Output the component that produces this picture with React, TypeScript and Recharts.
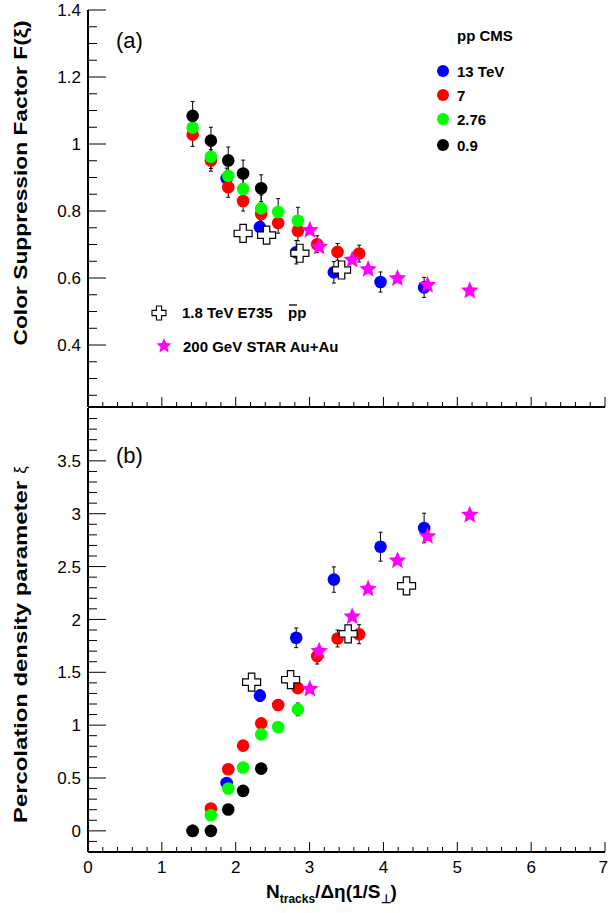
import React from 'react';
import { ScatterChart, Scatter, XAxis, YAxis, ErrorBar } from 'recharts';

const FONT = '"Liberation Sans", Arial, Helvetica, sans-serif';

// ---------- Panel (a): colour suppression factor F(xi) ----------
const cms13X = [1.877, 2.327, 2.819, 3.329, 3.961, 4.551];
const cms13F = [0.898, 0.752, 0.677, 0.617, 0.588, 0.572];
const cms13FErr = [0.03, 0.033, 0.035, 0.032, 0.03, 0.03];

const cms7X = [1.417, 1.664, 1.899, 2.1, 2.345, 2.575, 2.842, 3.103, 3.379, 3.671];
const cms7F = [1.028, 0.951, 0.871, 0.83, 0.791, 0.764, 0.741, 0.701, 0.678, 0.673];
const cms7FErr = [0.035, 0.032, 0.03, 0.03, 0.03, 0.03, 0.03, 0.025, 0.025, 0.025];

const cms276X = [1.417, 1.664, 1.899, 2.1, 2.345, 2.575, 2.842];
const cms276F = [1.049, 0.962, 0.905, 0.866, 0.808, 0.797, 0.771];
const cms276FErr = [0.035, 0.035, 0.035, 0.035, 0.04, 0.04, 0.04];

const cms09X = [1.417, 1.664, 1.899, 2.1, 2.345];
const cms09F = [1.084, 1.01, 0.951, 0.912, 0.868];
const cms09FErr = [0.043, 0.04, 0.04, 0.04, 0.04];

const e735Xa = [2.1, 2.418, 2.869, 3.433];
const e735F = [0.733, 0.728, 0.674, 0.624];

const starX = [3.004, 3.13, 3.577, 3.793, 4.19, 4.597, 5.169];
const starF = [0.743, 0.693, 0.654, 0.626, 0.599, 0.579, 0.562];

// ---------- Panel (b): percolation density parameter xi ----------
const cms13Xi = [0.453, 1.279, 1.826, 2.377, 2.688, 2.865];
const cms13XiErr = [0.02, 0.055, 0.093, 0.12, 0.137, 0.14];
const cms7Xi = [0, 0.211, 0.583, 0.806, 1.017, 1.19, 1.35, 1.653, 1.82, 1.86];
const cms7XiErr = [0, 0, 0, 0, 0.03, 0.05, 0.05, 0.075, 0.08, 0.09];
const cms276Xi = [0, 0.148, 0.4, 0.6, 0.913, 0.982, 1.149];
const cms276XiErr = [0, 0, 0, 0, 0, 0, 0.06];
const cms09Xi = [0, 0, 0.202, 0.378, 0.589];
const e735Xb = [2.215, 2.743, 3.522, 4.313];
const e735Xi = [1.407, 1.43, 1.864, 2.317];
const starXi = [1.341, 1.7, 2.027, 2.289, 2.556, 2.786, 2.988];

// ---------- axes ----------
const xMajor = [0, 1, 2, 3, 4, 5, 6, 7];
const aYMajor = [0.4, 0.6, 0.8, 1, 1.2, 1.4];
const bYMajor = [0, 0.5, 1, 1.5, 2, 2.5, 3, 3.5];
const steps = (a: number, b: number, s: number) =>
  Array.from({ length: Math.round((b - a) / s) + 1 }, (_, i) => +(a + i * s).toFixed(4));
const xTicks = steps(0, 7, 0.2);
const aYTicks = steps(0.25, 1.4, 0.05);
const bYTicks = steps(-0.1, 3.9, 0.1);

const C = { blue: '#0000ff', red: '#ff0000', green: '#00ff00', black: '#000000', mag: '#ff00ff' };

const pts = (xs: number[], ys: number[], es?: number[]) =>
  xs.map((x, i) => ({ x, y: ys[i], e: es ? es[i] : 0 }));

const isIn = (v: number, list: number[]) => list.some((m) => Math.abs(m - v) < 1e-6);

const makeTick = (side: string, majors: number[], majorLen: number, minorLen: number, labels: boolean) =>
  (props: any) => {
    const { x, y, payload } = props;
    const v = payload.value;
    const major = isIn(v, majors);
    const len = major ? majorLen : minorLen;
    let x2 = x, y2 = y;
    if (side === 'left') x2 = x + len;
    if (side === 'right') x2 = x - len;
    if (side === 'top') y2 = y + len;
    if (side === 'bottom') y2 = y - len;
    let label = null;
    if (labels && major) {
      if (side === 'left')
        label = (
          <text x={x - 7} y={y} dy="0.36em" textAnchor="end" fontSize={17} fontFamily={FONT} fill="#000">
            {String(v)}
          </text>
        );
      if (side === 'bottom') {
        const last = v === majors[majors.length - 1];
        label = (
          <text
            x={last ? x + 3 : x}
            y={y + 21}
            textAnchor={last ? 'end' : 'middle'}
            fontSize={17}
            fontFamily={FONT}
            fill="#000"
          >
            {String(v)}
          </text>
        );
      }
    }
    return (
      <g>
        <line x1={x} y1={y} x2={x2} y2={y2} stroke="#000" strokeWidth={1} />
        {label}
      </g>
    );
  };

const dot = (color: string) => (p: any) => <circle cx={p.cx} cy={p.cy} r={6.3} fill={color} />;
const noShape = () => <g />;

const starPath = (cx: number, cy: number, R: number) => {
  const r = R * 0.45;
  let d = '';
  for (let i = 0; i < 10; i++) {
    const rad = i % 2 === 0 ? R : r;
    const a = -Math.PI / 2 + (i * Math.PI) / 5;
    d += (i === 0 ? 'M' : 'L') + (cx + rad * Math.cos(a)).toFixed(2) + ',' + (cy + rad * Math.sin(a)).toFixed(2);
  }
  return d + 'Z';
};
const crossPath = (cx: number, cy: number, L: number, a: number) =>
  `M${cx - a},${cy - L}H${cx + a}V${cy - a}H${cx + L}V${cy + a}H${cx + a}V${cy + L}H${cx - a}V${cy + a}H${cx - L}V${cy - a}H${cx - a}Z`;

const starShape = (p: any) => <path d={starPath(p.cx, p.cy, 9.3)} fill={C.mag} />;
const crossShape = (p: any) => (
  <path d={crossPath(p.cx, p.cy, 9, 3.2)} fill="#fff" stroke="#000" strokeWidth={1.2} />
);

const axisLine = { stroke: '#000', strokeWidth: 2 };

function Panel(props: {
  top: number;
  height: number;
  bottomH: number;
  yDomain: [number, number];
  yTicks: number[];
  yMajors: number[];
  xLabels: boolean;
  children: React.ReactNode;
}) {
  const { top, height, bottomH, yDomain, yTicks, yMajors, xLabels, children } = props;
  return (
    <div style={{ position: 'absolute', left: 0, top }}>
      <ScatterChart width={608} height={height} margin={{ top: 10, right: 3, bottom: 0, left: 0 }}>
        <XAxis
          xAxisId="b"
          type="number"
          dataKey="x"
          domain={[0, 7]}
          allowDataOverflow
          ticks={xTicks}
          interval={0}
          tickSize={0}
          tickMargin={0}
          tickLine={false}
          height={bottomH}
          axisLine={axisLine}
          tick={makeTick('bottom', xMajor, 10, 5, xLabels)}
        />
        <XAxis
          xAxisId="t"
          orientation="top"
          type="number"
          domain={[0, 7]}
          allowDataOverflow
          ticks={xTicks}
          interval={0}
          tickSize={0}
          tickMargin={0}
          tickLine={false}
          height={0}
          axisLine={axisLine}
          tick={makeTick('top', xMajor, 10, 5, false)}
        />
        <YAxis
          yAxisId="l"
          type="number"
          dataKey="y"
          domain={yDomain}
          allowDataOverflow
          ticks={yTicks}
          interval={0}
          tickSize={0}
          tickMargin={0}
          tickLine={false}
          width={88}
          axisLine={axisLine}
          tick={makeTick('left', yMajors, 18, 9, true)}
        />
        <YAxis
          yAxisId="r"
          orientation="right"
          type="number"
          domain={yDomain}
          allowDataOverflow
          ticks={yTicks}
          interval={0}
          tickSize={0}
          tickMargin={0}
          tickLine={false}
          width={0}
          axisLine={axisLine}
          tick={makeTick('right', yMajors, 18, 9, false)}
        />
        {children}
      </ScatterChart>
    </div>
  );
}

const S = (key: string, data: any[], shape: any, err?: boolean) => (
  <Scatter key={key} xAxisId="b" yAxisId="l" data={data} shape={shape} isAnimationActive={false}>
    {err ? <ErrorBar dataKey="e" direction="y" width={2} stroke="#000" strokeWidth={1} /> : null}
  </Scatter>
);

export default function App() {
  const a13 = pts(cms13X, cms13F, cms13FErr);
  const a7 = pts(cms7X, cms7F, cms7FErr);
  const a276 = pts(cms276X, cms276F, cms276FErr);
  const a09 = pts(cms09X, cms09F, cms09FErr);
  const b13 = pts(cms13X, cms13Xi, cms13XiErr);
  const b7 = pts(cms7X, cms7Xi, cms7XiErr);
  const b276 = pts(cms276X, cms276Xi, cms276XiErr);
  const b09 = pts(cms09X, cms09Xi);
  const txt = { fontFamily: FONT, fill: '#000' } as const;
  return (
    <div style={{ position: 'absolute', left: 0, top: 0, width: 608, height: 913, background: '#fff' }}>
      <Panel top={0} height={420} bottomH={13} yDomain={[0.215, 1.4]} yTicks={aYTicks} yMajors={aYMajor} xLabels={false}>
        {S('a13', a13, dot(C.blue))}
        {S('a7', a7, dot(C.red))}
        {S('a276', a276, dot(C.green))}
        {S('a09', a09, dot(C.black))}
        {S('aE', pts(e735Xa, e735F), crossShape)}
        {S('aS', pts(starX, starF), starShape)}
        {S('a13e', a13, noShape, true)}
        {S('a7e', a7, noShape, true)}
        {S('a276e', a276, noShape, true)}
        {S('a09e', a09, noShape, true)}
      </Panel>
      <Panel top={398} height={515} bottomH={61} yDomain={[-0.2, 4]} yTicks={bYTicks} yMajors={bYMajor} xLabels={true}>
        {S('b13', b13, dot(C.blue))}
        {S('b7', b7, dot(C.red))}
        {S('b276', b276, dot(C.green))}
        {S('b09', b09, dot(C.black))}
        {S('bE', pts(e735Xb, e735Xi), crossShape)}
        {S('bS', pts(starX, starXi), starShape)}
        {S('b13e', b13, noShape, true)}
        {S('b7e', b7, noShape, true)}
        {S('b276e', b276, noShape, true)}
      </Panel>
      <svg width={608} height={913} style={{ position: 'absolute', left: 0, top: 0, pointerEvents: 'none' }}>
        <text x={116} y={48} fontSize={22} {...txt}>(a)</text>
        <text x={116} y={463} fontSize={22} {...txt}>(b)</text>
        <text x={457} y={41} fontSize={15} fontWeight="bold" {...txt}>pp CMS</text>
        {[
          ['13 TeV', C.blue, 71],
          ['7', C.red, 95],
          ['2.76', C.green, 119],
          ['0.9', C.black, 145],
        ].map(([t, c, y]) => (
          <g key={t as string}>
            <circle cx={443} cy={y as number} r={6} fill={c as string} />
            <text x={457} y={(y as number) + 6} fontSize={15} fontWeight="bold" {...txt}>{t}</text>
          </g>
        ))}
        <path d={crossPath(159, 313, 7, 2.6)} fill="#fff" stroke="#000" strokeWidth={1.1} />
        <text x={182} y={318} fontSize={15} fontWeight="bold" {...txt}>1.8 TeV E735</text>
        <text x={288} y={318} fontSize={15} fontWeight="bold" {...txt}>pp</text>
        <line x1={289} y1={305} x2={297} y2={305} stroke="#000" strokeWidth={1.3} />
        <path d={starPath(164, 346, 8)} fill={C.mag} />
        <text x={183} y={352} fontSize={15} fontWeight="bold" {...txt}>200 GeV STAR Au+Au</text>
        <text
          transform="translate(27,183) rotate(-90)"
          textAnchor="middle"
          fontSize={19}
          fontWeight="bold"
          textLength={325}
          lengthAdjust="spacingAndGlyphs"
          {...txt}
        >
          Color Suppression Factor F(ξ)
        </text>
        <text
          transform="translate(27,652) rotate(-90)"
          textAnchor="middle"
          fontSize={19}
          fontWeight="bold"
          textLength={342}
          lengthAdjust="spacingAndGlyphs"
          {...txt}
        >
          Percolation density parameter
        </text>
        <text transform="translate(26,470) rotate(-90)" textAnchor="middle" fontSize={17} {...txt}>ξ</text>
        <text x={266} y={898} fontSize={19} fontWeight="bold" {...txt}>
          N<tspan fontSize={12} dy={5}>tracks</tspan>
          <tspan dy={-5}>/Δη(1/S</tspan>
          <tspan fontSize={12} dy={5}>⊥</tspan>
          <tspan dy={-5}>)</tspan>
        </text>
      </svg>
    </div>
  );
}
